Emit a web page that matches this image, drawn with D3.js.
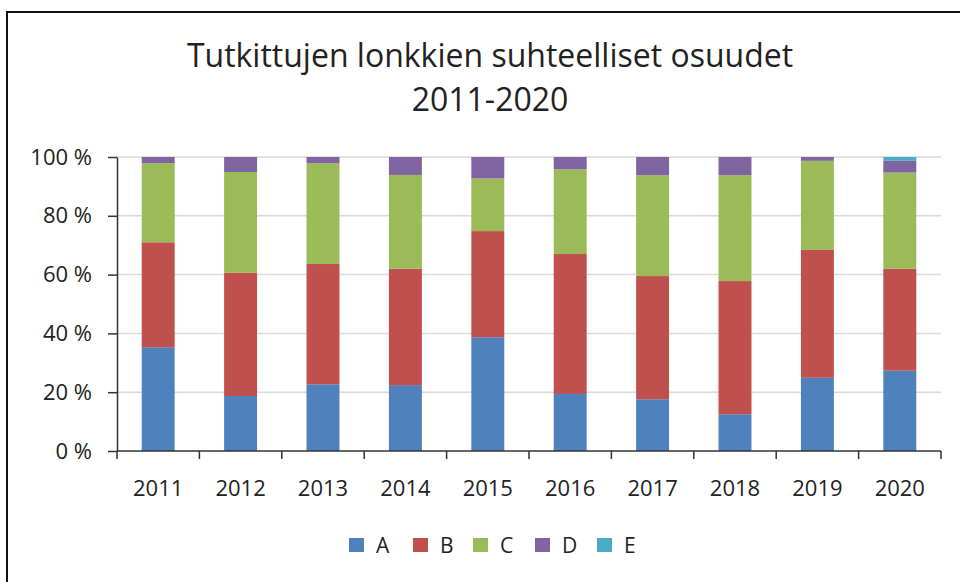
<!DOCTYPE html>
<html>
<head>
<meta charset="utf-8">
<script src="https://cdn.jsdelivr.net/npm/d3@7"></script>
<style>
  body { margin: 0; background: #fff; }
  svg { display: block; font-family: "Open Sans", "Noto Sans", sans-serif; }
</style>
</head>
<body>
<div id="container"></div>
<script>
/* DATA */
const years = ["2011", "2012", "2013", "2014", "2015", "2016", "2017", "2018", "2019", "2020"];
const seriesKeys = ["A", "B", "C", "D", "E"];
const valA = [35.3, 18.7, 22.7, 22.4, 38.7, 19.4, 17.6, 12.5, 24.9, 27.3];
const valB = [35.7, 41.9, 40.9, 39.6, 36.1, 47.6, 41.9, 45.3, 43.5, 34.7];
const valC = [26.9, 34.3, 34.3, 31.9, 17.9, 28.8, 34.3, 36.0, 30.3, 32.7];
const valD = [2.1, 5.1, 2.1, 6.1, 7.3, 4.2, 6.2, 6.2, 1.3, 4.0];
const valE = [0, 0, 0, 0, 0, 0, 0, 0, 0, 1.3];
const yTicks = [0, 20, 40, 60, 80, 100];
const colors = ["#4f81bd", "#c0504d", "#9bbb59", "#8064a2", "#4bacc6"];

const width = 960,
    height = 582,
    margin = { top: 157, bottom: 131, left: 117, right: 19 };

const svg = d3.select("#container")
    .append("svg")
    .attr("width", width)
    .attr("height", height);

// frame (left + top edge only, as in the source image)
svg.append("path")
    .attr("d", `M7,${height} L7,12 L${width},12`)
    .attr("fill", "none")
    .attr("stroke", "#111")
    .attr("stroke-width", 2);

// title
svg.append("text")
    .attr("x", 490).attr("y", 67)
    .attr("text-anchor", "middle")
    .attr("font-size", 32)
    .attr("fill", "#222")
    .text("Tutkittujen lonkkien suhteelliset osuudet");
svg.append("text")
    .attr("x", 490).attr("y", 111)
    .attr("text-anchor", "middle")
    .attr("font-size", 32)
    .attr("fill", "#222")
    .text("2011-2020");

const table = years.map((y, i) => ({
    year: y, A: valA[i], B: valB[i], C: valC[i], D: valD[i], E: valE[i]
}));
const stacked = d3.stack().keys(seriesKeys)(table);

const xScale = d3.scaleBand()
    .domain(years)
    .range([margin.left, width - margin.right])
    .paddingInner(0.6)
    .paddingOuter(0.3);

const yScale = d3.scaleLinear()
    .domain([0, 100])
    .range([height - margin.bottom, margin.top]);

// gridlines
svg.append("g")
    .selectAll("line")
    .data(yTicks.slice(1))
    .join("line")
    .attr("x1", margin.left)
    .attr("x2", width - margin.right)
    .attr("y1", d => yScale(d))
    .attr("y2", d => yScale(d))
    .attr("stroke", "#d9d9d9")
    .attr("stroke-width", 1.5);

// bars
svg.append("g")
    .selectAll("g")
    .data(stacked)
    .join("g")
    .attr("fill", (d, i) => colors[i])
    .selectAll("rect")
    .data(d => d)
    .join("rect")
    .attr("x", d => xScale(d.data.year))
    .attr("y", d => yScale(d[1]))
    .attr("width", xScale.bandwidth())
    .attr("height", d => yScale(d[0]) - yScale(d[1]));

// y axis
const yAxis = d3.axisLeft(yScale)
    .tickValues(yTicks)
    .tickSize(9)
    .tickSizeOuter(0)
    .tickFormat(d => d + " %");
const yAxisGroup = svg.append("g")
    .attr("transform", `translate(${margin.left},0)`)
    .call(yAxis);
yAxisGroup.select(".domain").attr("stroke", "#333").attr("stroke-width", 1.5);
yAxisGroup.selectAll(".tick line").attr("stroke", "#333").attr("stroke-width", 1.5);
yAxisGroup.selectAll(".tick text")
    .attr("x", -25)
    .attr("font-size", 22)
    .attr("font-family", "Open Sans, sans-serif")
    .attr("fill", "#222");

// x axis with boundary ticks
const xAxisGroup = svg.append("g")
    .attr("transform", `translate(0,${height - margin.bottom})`);
xAxisGroup.append("line")
    .attr("x1", margin.left).attr("x2", width - margin.right)
    .attr("stroke", "#333").attr("stroke-width", 1.5);
const plotW = width - margin.left - margin.right;
xAxisGroup.selectAll("line.tk")
    .data(d3.range(years.length + 1))
    .join("line")
    .attr("class", "tk")
    .attr("x1", i => margin.left + i * plotW / years.length)
    .attr("x2", i => margin.left + i * plotW / years.length)
    .attr("y1", 0).attr("y2", 8)
    .attr("stroke", "#333").attr("stroke-width", 1.5);
xAxisGroup.selectAll("text")
    .data(years)
    .join("text")
    .attr("x", d => xScale(d) + xScale.bandwidth() / 2)
    .attr("y", 45)
    .attr("text-anchor", "middle")
    .attr("font-size", 22)
    .attr("fill", "#222")
    .text(d => d);

// legend
const legendX = [349, 413, 473, 535, 597];
const legend = svg.append("g")
    .selectAll("g")
    .data(seriesKeys)
    .join("g")
    .attr("transform", (d, i) => `translate(${legendX[i]},538)`);
legend.append("rect")
    .attr("width", 15).attr("height", 14)
    .attr("fill", (d, i) => colors[i]);
legend.append("text")
    .attr("x", 27).attr("y", 14.5)
    .attr("font-size", 21)
    .attr("fill", "#222")
    .text(d => d);
</script>
</body>
</html>
